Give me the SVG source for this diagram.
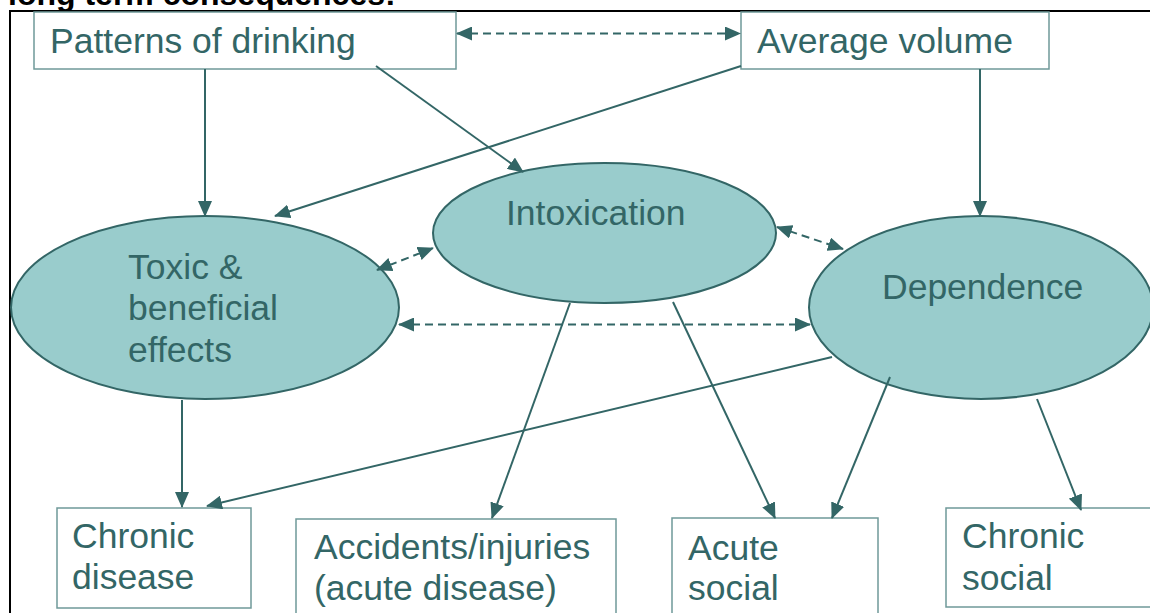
<svg xmlns="http://www.w3.org/2000/svg" width="1150" height="613" viewBox="0 0 1150 613">
<style>
.t{font-family:"Liberation Sans",Arial,sans-serif;font-size:35.5px;fill:#336666}
.box{fill:#ffffff;stroke:#6f9999;stroke-width:1.5}
.ell{fill:#99cccc;stroke:#336666;stroke-width:2}
.c{fill:none;stroke:#336666;stroke-width:2}
.d{fill:none;stroke:#336666;stroke-width:2;stroke-dasharray:8,5}
</style>
<defs>
<marker id="ah" markerUnits="userSpaceOnUse" markerWidth="16" markerHeight="14" refX="15" refY="7" orient="auto-start-reverse" viewBox="0 0 16 14">
<path d="M0,0 L16,7 L0,14 z" fill="#336666"/>
</marker>
</defs>
<rect width="1150" height="613" fill="#ffffff"/>
<text x="8" y="5" style="font-family:'Liberation Sans',Arial,sans-serif;font-size:32px;font-weight:bold;fill:#000">long term consequences:</text>
<rect x="10" y="11" width="1200" height="700" fill="none" stroke="#000" stroke-width="2"/>

<g id="n-patterns"><rect class="box" x="34" y="12" width="422" height="57"/><text class="t" x="50" y="53">Patterns of drinking</text></g>
<g id="n-average"><rect class="box" x="741" y="12" width="308" height="57"/><text class="t" x="757" y="53">Average volume</text></g>
<g id="n-toxic"><ellipse class="ell" cx="205" cy="307.5" rx="194" ry="91.5"/><text class="t" x="128" y="279">Toxic &amp;</text><text class="t" x="128" y="320">beneficial</text><text class="t" x="128" y="362">effects</text></g>
<g id="n-intox"><ellipse class="ell" cx="604.5" cy="233" rx="171.5" ry="70"/><text class="t" x="506" y="225">Intoxication</text></g>
<g id="n-dep"><ellipse class="ell" cx="981" cy="307.5" rx="172" ry="91.5"/><text class="t" x="882" y="299">Dependence</text></g>
<g id="n-chrdis"><rect class="box" x="57" y="508" width="194" height="100"/><text class="t" x="72" y="548">Chronic</text><text class="t" x="72" y="589">disease</text></g>
<g id="n-acc"><rect class="box" x="296" y="519" width="320" height="110"/><text class="t" x="314" y="559">Accidents/injuries</text><text class="t" x="314" y="600">(acute disease)</text></g>
<g id="n-acute"><rect class="box" x="672" y="518" width="206" height="110"/><text class="t" x="688" y="560">Acute</text><text class="t" x="688" y="600">social</text></g>
<g id="n-chrsoc"><rect class="box" x="946" y="508" width="220" height="99"/><text class="t" x="962" y="548">Chronic</text><text class="t" x="962" y="590">social</text></g>

<g id="connectors">
<line class="d" x1="457" y1="33.5" x2="740" y2="33.5" marker-start="url(#ah)" marker-end="url(#ah)"/>
<line class="c" x1="205" y1="69" x2="205" y2="216" marker-end="url(#ah)"/>
<line class="c" x1="376" y1="66" x2="523" y2="172" marker-end="url(#ah)"/>
<line class="c" x1="741" y1="66" x2="275" y2="216" marker-end="url(#ah)"/>
<line class="c" x1="980" y1="69" x2="980" y2="216" marker-end="url(#ah)"/>
<line class="d" x1="377" y1="270" x2="433" y2="248" marker-start="url(#ah)" marker-end="url(#ah)"/>
<line class="d" x1="777" y1="227" x2="843" y2="249" marker-start="url(#ah)" marker-end="url(#ah)"/>
<line class="d" x1="399" y1="324.5" x2="810" y2="324.5" marker-start="url(#ah)" marker-end="url(#ah)"/>
<line class="c" x1="182" y1="400" x2="182" y2="507" marker-end="url(#ah)"/>
<line class="c" x1="832" y1="357" x2="207" y2="506" marker-end="url(#ah)"/>
<line class="c" x1="570" y1="303" x2="492" y2="518" marker-end="url(#ah)"/>
<line class="c" x1="673" y1="302" x2="775" y2="518" marker-end="url(#ah)"/>
<line class="c" x1="890" y1="377" x2="832" y2="518" marker-end="url(#ah)"/>
<line class="c" x1="1037" y1="399" x2="1081" y2="510" marker-end="url(#ah)"/>
</g>
</svg>
